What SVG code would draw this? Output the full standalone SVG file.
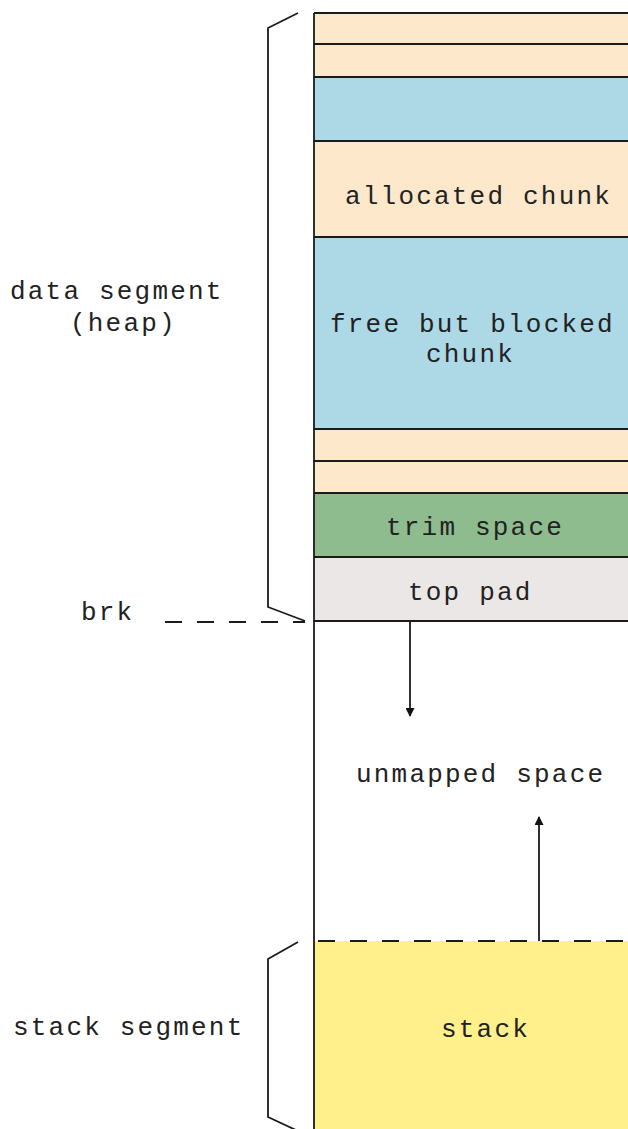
<svg xmlns="http://www.w3.org/2000/svg" width="628" height="1129" viewBox="0 0 628 1129">
  <style>
    .lbl { font-family: "Liberation Mono", "DejaVu Sans Mono", monospace; font-size: 26px; letter-spacing: 2.2px; fill: #222; }
    .edge { stroke: #1a1a1a; stroke-width: 1.8; fill: none; }
    .dash { stroke: #1a1a1a; stroke-width: 1.8; fill: none; stroke-dasharray: 17 15; }
    .peach { fill: #fde8cc; }
    .blue { fill: #add8e6; }
    .green { fill: #8fbc8f; }
    .pad { fill: #ebe7e7; }
    .stk { fill: #fff08c; }
  </style>
  <defs>
    <marker id="tri" viewBox="0 0 10 10" refX="9" refY="5" markerWidth="11" markerHeight="9" markerUnits="userSpaceOnUse" orient="auto">
      <path d="M0,0 L10,5 L0,10 z" fill="#111"/>
    </marker>
  </defs>
  <rect width="628" height="1129" fill="#fff"/>

  <!-- heap chunks -->
  <g id="chunk-1"><rect class="peach" x="314" y="13" width="320" height="31"/><path class="edge" d="M314,13 H628"/></g>
  <g id="chunk-2"><rect class="peach" x="314" y="44" width="320" height="33"/><path class="edge" d="M314,44 H628"/></g>
  <g id="chunk-3"><rect class="blue" x="314" y="77" width="320" height="64"/><path class="edge" d="M314,77 H628"/></g>
  <g id="allocated-chunk"><rect class="peach" x="314" y="141" width="320" height="96"/><path class="edge" d="M314,141 H628"/>
    <text class="lbl" x="345" y="204">allocated chunk</text></g>
  <g id="free-chunk"><rect class="blue" x="314" y="237" width="320" height="192"/><path class="edge" d="M314,237 H628"/>
    <text class="lbl" x="330" y="332">free but blocked</text>
    <text class="lbl" x="426" y="362">chunk</text></g>
  <g id="chunk-6"><rect class="peach" x="314" y="429" width="320" height="32"/><path class="edge" d="M314,429 H628"/></g>
  <g id="chunk-7"><rect class="peach" x="314" y="461" width="320" height="32"/><path class="edge" d="M314,461 H628"/></g>
  <g id="trim-space"><rect class="green" x="314" y="493" width="320" height="64"/><path class="edge" d="M314,493 H628"/>
    <text class="lbl" x="386" y="535">trim space</text></g>
  <g id="top-pad"><rect class="pad" x="314" y="557" width="320" height="64"/><path class="edge" d="M314,557 H628 M314,621 H628"/>
    <text class="lbl" x="408" y="600">top pad</text></g>

  <g id="unmapped-space">
    <text class="lbl" x="356" y="782">unmapped space</text>
  </g>

  <g id="stack">
    <rect class="stk" x="314" y="941" width="320" height="188"/>
    <text class="lbl" x="441" y="1037">stack</text>
  </g>

  <!-- left edge of the address column -->
  <path class="edge" d="M314,13 V1129"/>

  <!-- segment labels and braces -->
  <g id="data-segment">
    <path class="edge" d="M298,13 L268,28 V607 L305,621"/>
    <text class="lbl" x="10" y="299">data segment</text>
    <text class="lbl" x="70" y="331">(heap)</text>
  </g>
  <g id="brk">
    <text class="lbl" x="81" y="620">brk</text>
  </g>
  <g id="stack-segment">
    <path class="edge" d="M298,942 L268,959 V1117 L298,1131"/>
    <text class="lbl" x="13" y="1035">stack segment</text>
  </g>

  <!-- connectors -->
  <g id="connectors">
    <path class="dash" d="M165,622 H305"/>
    <path class="dash" d="M318,941 H628"/>
    <path class="edge" d="M410,621 V716" marker-end="url(#tri)"/>
    <path class="edge" d="M539,941 V817" marker-end="url(#tri)"/>
  </g>
</svg>
